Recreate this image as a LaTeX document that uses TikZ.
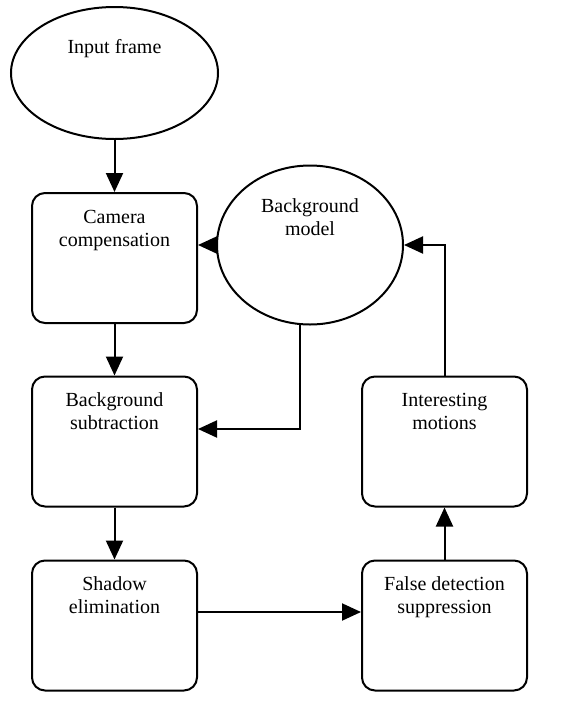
\documentclass[tikz,border=0pt]{standalone}
\usepackage{fontspec}
\setmainfont{Liberation Serif}
\usetikzlibrary{arrows.meta,positioning,shapes.geometric}

\tikzset{
  blk/.style={draw, line width=1pt, rounded corners=6.5pt, minimum width=82.5pt,
    inner sep=0pt, align=center, text height=26.6pt, text depth=38.4pt,
    font=\fontsize{10}{11.6}\selectfont},
  ell/.style={draw, ellipse, line width=1pt, inner sep=0pt, align=center,
    font=\fontsize{10}{11.8}\selectfont},
  arr/.style={line width=1pt, -{Triangle[length=9.5pt,width=8.5pt]}}
}

\begin{document}
\begin{tikzpicture}[x=0.5pt,y=-0.5pt]
            \useasboundingbox (0,0) rectangle (588,708);
            \node[ell, minimum width=103.5pt, minimum height=66pt, text height=8pt, text depth=28pt] (in) at (114.5,73) {Input frame};
            \node[ell, minimum width=93pt, minimum height=79.5pt, text height=19.8pt, text depth=29.2pt] (bgm) at (310,245) {Background\\model};
            \node[blk] (cam) at (114.5,258) {Camera\\compensation};
            \node[blk] (sub) at (114.5,441.5) {Background\\subtraction};
            \node[blk] (sha) at (114.5,625.5) {Shadow\\elimination};
            \node[blk] (int) at (444.5,441.5) {Interesting\\motions};
            \node[blk] (fal) at (444.5,625.5) {False detection\\suppression};
            \draw[arr] (in) -- (cam);
            \draw[arr] (bgm.west) -- (bgm.west -| cam.east);
            \draw[arr] (cam) -- (sub);
            \draw[arr] (bgm.263) |- ([yshift=6.25pt]sub.east);
            \draw[arr] (sub) -- (sha);
            \draw[arr] ([yshift=6.75pt]sha.east) -- ([yshift=6.75pt]fal.west);
            \draw[arr] (fal) -- (int);
            \draw[arr] (int.north) |- (bgm.east);
        \end{tikzpicture}
\end{document}
